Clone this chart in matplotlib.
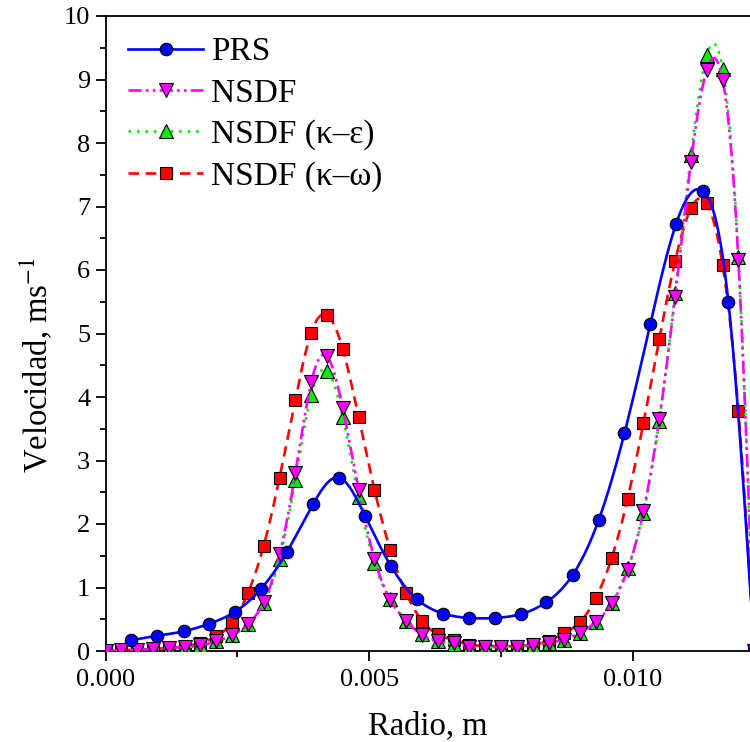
import numpy as np
import matplotlib
matplotlib.use("Agg")
import matplotlib.pyplot as plt
from matplotlib.lines import Line2D
from matplotlib.ticker import MultipleLocator, FormatStrFormatter

# ---------------- data ----------------
r_prs = [0.00049, 0.00098, 0.00148, 0.00197, 0.00246, 0.00295, 0.00344, 0.00394,
         0.00443, 0.00492, 0.00541, 0.00590, 0.00640, 0.00689, 0.00738, 0.00787,
         0.00836, 0.00886, 0.00935, 0.00984, 0.01033, 0.01082, 0.01132, 0.01181,
         0.01230]
v_prs = [0.17, 0.24, 0.31, 0.43, 0.62, 0.98, 1.56, 2.32, 2.73, 2.13, 1.34, 0.82,
         0.59, 0.52, 0.52, 0.58, 0.77, 1.20, 2.06, 3.43, 5.15, 6.73, 7.25, 5.50,
         0.00]

r_nsdf = [0.0000, 0.0003, 0.0006, 0.0009, 0.0012, 0.0015, 0.0018, 0.0021, 0.0024,
          0.0027, 0.0030, 0.0033, 0.0036, 0.0039, 0.0042, 0.0045, 0.0048, 0.0051,
          0.0054, 0.0057, 0.0060, 0.0063, 0.0066, 0.0069, 0.0072, 0.0075, 0.0078,
          0.0081, 0.0084, 0.0087, 0.0090, 0.0093, 0.0096, 0.0099, 0.0102, 0.0105,
          0.0108, 0.0111, 0.0114, 0.0117, 0.0120, 0.0123]
v_nsdf = [0.00, 0.01, 0.02, 0.03, 0.05, 0.06, 0.09, 0.15, 0.25, 0.42, 0.77, 1.52,
          2.80, 4.23, 4.64, 3.82, 2.53, 1.45, 0.80, 0.48, 0.25, 0.15, 0.12, 0.07,
          0.06, 0.06, 0.07, 0.09, 0.13, 0.18, 0.29, 0.46, 0.75, 1.28, 2.21, 3.65,
          5.58, 7.70, 9.15, 9.00, 6.15, 0.00]
v_ke = [0.00, 0.01, 0.02, 0.03, 0.05, 0.06, 0.09, 0.15, 0.25, 0.42, 0.75, 1.45,
        2.70, 4.03, 4.41, 3.68, 2.42, 1.38, 0.82, 0.48, 0.26, 0.16, 0.11, 0.07,
        0.06, 0.06, 0.07, 0.09, 0.13, 0.18, 0.28, 0.45, 0.76, 1.30, 2.17, 3.62,
        5.64, 7.81, 9.38, 9.17, 6.21, 0.00]
v_kw = [0.00, 0.01, 0.02, 0.03, 0.05, 0.07, 0.13, 0.23, 0.45, 0.91, 1.66, 2.73,
        3.96, 5.01, 5.29, 4.75, 3.68, 2.54, 1.59, 0.91, 0.48, 0.26, 0.17, 0.10,
        0.08, 0.07, 0.08, 0.10, 0.16, 0.28, 0.46, 0.84, 1.47, 2.40, 3.59, 4.91,
        6.14, 6.97, 7.05, 6.08, 3.78, 0.00]

labels = ["PRS", "NSDF", "NSDF (\u03ba\u2013\u03b5)", "NSDF (\u03ba\u2013\u03c9)"]
x_ticks = [0.000, 0.005, 0.010]
y_ticks = list(range(0, 11))


def natural_spline(x, y, n=800):
    x = np.asarray(x, float)
    y = np.asarray(y, float)
    m = len(x)
    h = np.diff(x)
    A = np.zeros((m, m))
    b = np.zeros(m)
    A[0, 0] = 1
    A[-1, -1] = 1
    for i in range(1, m - 1):
        A[i, i - 1] = h[i - 1]
        A[i, i] = 2 * (h[i - 1] + h[i])
        A[i, i + 1] = h[i]
        b[i] = 6 * ((y[i + 1] - y[i]) / h[i] - (y[i] - y[i - 1]) / h[i - 1])
    M = np.linalg.solve(A, b)
    xs = np.linspace(x[0], x[-1], n)
    idx = np.clip(np.searchsorted(x, xs) - 1, 0, m - 2)
    x0, x1 = x[idx], x[idx + 1]
    hh = x1 - x0
    a = (x1 - xs) / hh
    c = (xs - x0) / hh
    ys = (a * y[idx] + c * y[idx + 1]
          + ((a ** 3 - a) * M[idx] + (c ** 3 - c) * M[idx + 1]) * hh ** 2 / 6)
    return xs, ys


plt.rcParams['font.family'] = ['Liberation Serif', 'DejaVu Serif']
plt.rcParams['mathtext.fontset'] = 'stix'

fig = plt.figure(figsize=(7.5, 7.42), dpi=100)
W, H = 750, 742
ax = fig.add_axes([105.5 / W, (H - 651) / H, (750 - 105.5) / W, (651 - 16) / H])

series = [
    (r_prs, v_prs, '#0000ff', '-', 'o', 9, 10),
    (r_nsdf, v_nsdf, '#ff00ff', (0, (5, 1.6, 1, 1.6, 1, 1.6)), 'v', 10, 8),
    (r_nsdf, v_ke, '#00ee00', (0, (1, 2.2)), '^', 10, 6),
    (r_nsdf, v_kw, '#ff0000', (0, (4, 2.5)), 's', 8.5, 4),
]
handles = []
for (xr, yv, col, ls, mk, ms, z), lab in zip(series, labels):
    xs, ys = natural_spline(xr, yv)
    ax.plot(xs, ys, color=col, linestyle=ls, lw=1.9, zorder=z, clip_on=True)
    ax.plot(xr, yv, linestyle='none', marker=mk, ms=ms, mfc=col, mec='black',
            mew=0.8, zorder=z + 1, clip_on=True)
    handles.append(Line2D([], [], color=col, linestyle=ls, lw=1.9, marker=mk,
                          ms=ms, mfc=col, mec='black', mew=0.8, label=lab))

ax.set_xlim(0, 0.01222)
ax.set_ylim(0, 10)
ax.spines['right'].set_visible(False)
for s in ['left', 'bottom', 'top']:
    ax.spines[s].set_linewidth(1.3)

ax.set_xticks(x_ticks)
ax.xaxis.set_major_formatter(FormatStrFormatter('%.3f'))
ax.xaxis.set_minor_locator(MultipleLocator(0.0025))
ax.set_yticks(y_ticks)
ax.yaxis.set_minor_locator(MultipleLocator(0.5))
ax.tick_params(which='major', direction='out', length=7, width=1.3,
               labelsize=19, top=False, right=False)
ax.tick_params(axis='y', which='major', pad=4)
ax.tick_params(axis='x', which='major', pad=6)
ax.tick_params(which='minor', direction='out', length=4, width=1.3,
               top=False, right=False)

ax.set_xlabel("Radio, m", fontsize=23.5, labelpad=14)
ax.set_ylabel("Velocidad, ms$^{-1}$", fontsize=23.5)
ax.yaxis.set_label_coords(-0.08, 0.45)

leg = ax.legend(handles=handles, loc='upper left', bbox_to_anchor=(0.035, 0.967),
                frameon=False, fontsize=24, handlelength=2.25, handletextpad=0.25,
                labelspacing=0.32, borderpad=0, borderaxespad=0)

fig.savefig("out.png", dpi=100)
